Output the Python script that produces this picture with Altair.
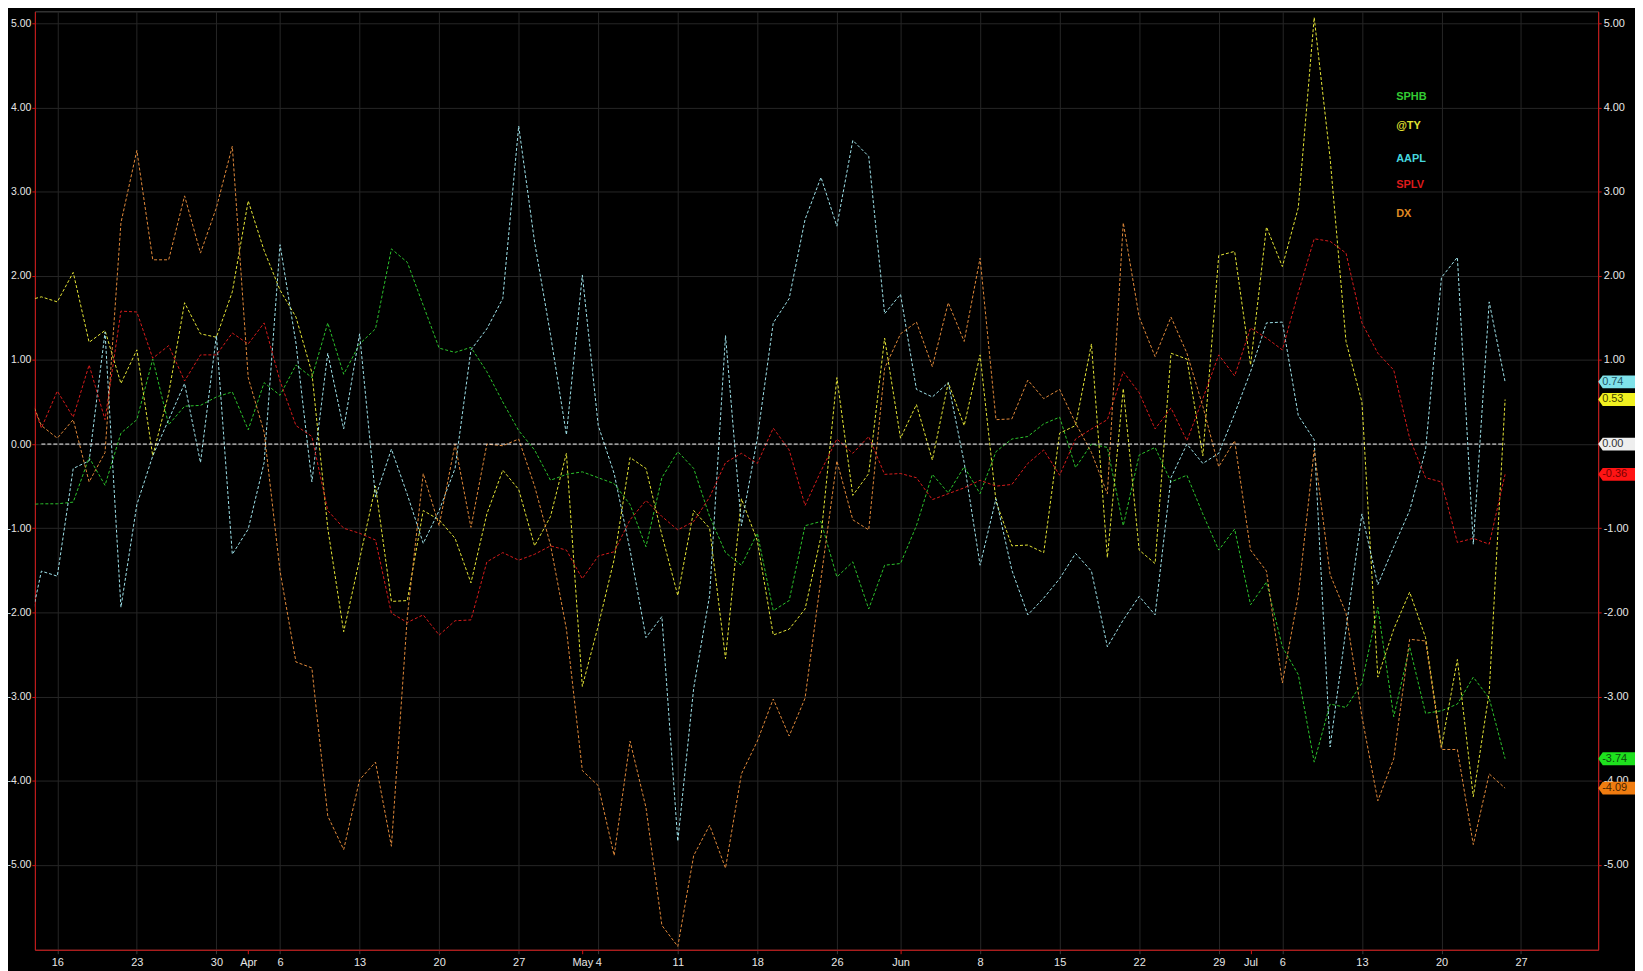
import json

import altair as alt
import pandas as pd

# Trading-day index: 0 = Mon Mar 16 2020, 91 = Fri Jul 24 2020 (bar -2 is clipped at the left edge)
bars = list(range(-2, 92))

sphb = [-0.72, -0.71, -0.71, -0.69, -0.16, -0.49, 0.13, 0.29, 1.01, 0.23,
        0.45, 0.46, 0.56, 0.62, 0.17, 0.73, 0.58, 0.94, 0.79, 1.44,
        0.83, 1.19, 1.37, 2.32, 2.16, 1.65, 1.14, 1.09, 1.15, 0.86,
        0.50, 0.16, -0.07, -0.43, -0.36, -0.33, -0.40, -0.47, -0.72, -1.22,
        -0.40, -0.09, -0.29, -0.86, -1.29, -1.44, -1.06, -1.98, -1.86, -0.97,
        -0.92, -1.58, -1.40, -1.96, -1.44, -1.42, -0.97, -0.36, -0.58, -0.27,
        -0.59, -0.09, 0.06, 0.09, 0.24, 0.32, -0.28, 0.00, -0.04, -0.97,
        -0.13, -0.04, -0.45, -0.37, -0.83, -1.26, -1.01, -1.91, -1.64, -2.41,
        -2.74, -3.78, -3.09, -3.13, -2.84, -1.94, -3.24, -2.41, -3.20, -3.17,
        -3.09, -2.77, -3.02, -3.74]

ty = [1.70, 1.75, 1.69, 2.04, 1.21, 1.35, 0.72, 1.12, -0.14, 0.60,
      1.68, 1.31, 1.27, 1.81, 2.89, 2.30, 1.83, 1.51, 0.85, -1.00,
      -2.23, -1.37, -0.50, -1.87, -1.86, -0.79, -0.90, -1.12, -1.65, -0.83,
      -0.31, -0.54, -1.21, -0.86, -0.11, -2.88, -2.16, -1.37, -0.16, -0.29,
      -1.08, -1.80, -0.79, -1.00, -2.55, -0.65, -1.15, -2.27, -2.20, -1.96,
      -1.10, 0.79, -0.61, -0.35, 1.26, 0.07, 0.47, -0.19, 0.73, 0.22,
      1.06, -0.68, -1.21, -1.20, -1.29, 0.13, 0.22, 1.19, -1.35, 0.66,
      -1.26, -1.42, 1.08, 1.01, -0.14, 2.24, 2.29, 0.94, 2.58, 2.11,
      2.81, 5.07, 3.40, 1.22, 0.50, -2.77, -2.20, -1.76, -2.30, -3.60,
      -2.56, -4.19, -2.95, 0.53]

aapl = [-2.40, -1.51, -1.57, -0.29, -0.20, 1.33, -1.94, -0.72, -0.14, 0.29,
        0.72, -0.22, 1.29, -1.31, -1.01, -0.22, 2.37, 1.20, -0.45, 1.08,
        0.18, 1.31, -0.63, -0.06, -0.60, -1.18, -0.79, -0.29, 1.12, 1.37,
        1.73, 3.78, 2.40, 1.30, 0.11, 2.01, 0.22, -0.35, -1.26, -2.30,
        -2.05, -4.72, -2.90, -1.80, 1.29, -0.97, 0.07, 1.44, 1.73, 2.67,
        3.17, 2.59, 3.61, 3.42, 1.55, 1.78, 0.65, 0.56, 0.73, -0.22,
        -1.44, -0.65, -1.50, -2.03, -1.83, -1.60, -1.30, -1.51, -2.41, -2.09,
        -1.81, -2.03, -0.40, 0.00, -0.23, -0.11, 0.36, 0.86, 1.44, 1.45,
        0.34, 0.05, -3.60, -2.20, -0.83, -1.67, -1.22, -0.79, -0.07, 1.98,
        2.22, -1.19, 1.69, 0.74]

splv = [0.73, 0.19, 0.63, 0.32, 0.94, 0.29, 1.58, 1.57, 1.02, 1.17,
        0.75, 1.06, 1.06, 1.32, 1.19, 1.44, 0.75, 0.22, 0.09, -0.79,
        -1.00, -1.06, -1.14, -2.01, -2.12, -2.03, -2.27, -2.10, -2.09, -1.40,
        -1.29, -1.38, -1.31, -1.21, -1.26, -1.60, -1.33, -1.28, -0.90, -0.67,
        -0.86, -1.02, -0.92, -0.63, -0.22, -0.11, -0.23, 0.19, -0.07, -0.73,
        -0.32, 0.06, -0.11, 0.09, -0.36, -0.35, -0.40, -0.66, -0.59, -0.52,
        -0.43, -0.50, -0.48, -0.23, -0.07, -0.37, 0.06, 0.18, 0.29, 0.86,
        0.61, 0.18, 0.43, 0.04, 0.54, 1.06, 0.81, 1.38, 1.26, 1.12,
        1.80, 2.44, 2.41, 2.27, 1.44, 1.08, 0.88, 0.07, -0.40, -0.45,
        -1.17, -1.12, -1.19, -0.36]

dx = [0.70, 0.22, 0.07, 0.29, -0.45, -0.10, 2.63, 3.49, 2.19, 2.19,
      2.95, 2.27, 2.81, 3.54, 0.79, 0.14, -1.51, -2.59, -2.66, -4.42,
      -4.82, -3.99, -3.78, -4.78, -2.05, -0.35, -0.97, 0.00, -0.99, 0.00,
      -0.02, 0.06, -0.50, -1.20, -2.20, -3.88, -4.06, -4.89, -3.53, -4.32,
      -5.72, -5.97, -4.89, -4.53, -5.04, -3.92, -3.53, -3.03, -3.47, -3.02,
      -1.60, -0.20, -0.90, -1.02, 0.90, 1.31, 1.45, 0.92, 1.68, 1.22,
      2.21, 0.29, 0.30, 0.76, 0.54, 0.65, 0.25, -0.10, -0.59, 2.63,
      1.51, 1.04, 1.51, 1.08, 0.45, -0.27, 0.04, -1.26, -1.51, -2.84,
      -1.80, -0.07, -1.55, -2.01, -3.24, -4.24, -3.74, -2.32, -2.34, -3.63,
      -3.63, -4.76, -3.92, -4.09]

series = ["SPHB", "@TY", "AAPL", "SPLV", "DX"]
series_values = [sphb, ty, aapl, splv, dx]
line_colors = ["#2cc42c", "#e6e636", "#9fe4ec", "#d81c1c", "#e28a3a"]
legend_colors = ["#33cc33", "#e2e232", "#46d6de", "#dd1a1a", "#e08a22"]

# last-value tags on the right axis (zero line tag first)
tag_fills = ["#eeeeee", "#1ee01e", "#f0f020", "#7fe2ea", "#ff1414", "#f07c10"]
tag_text_colors = ["#333333", "#0b4a0b", "#444400", "#1f5566", "#7a0000", "#4a2400"]

# x-axis ticks: weekly (with grid) plus month starts
tick_bars = [0, 5, 10, 12, 14, 19, 24, 29, 33, 34, 39, 44, 49, 53, 58, 63, 68, 73, 75, 77, 82, 87, 92]
tick_labels = ["16", "23", "30", "Apr", "6", "13", "20", "27", "May", "4", "11", "18", "26",
               "Jun", "8", "15", "22", "29", "Jul", "6", "13", "20", "27"]
month_bars = [12, 33, 53, 75]
no_grid_bars = [12, 33, 75]

FONT = "Liberation Sans, Arial, sans-serif"
RED = "#d41414"
GRID = "#262626"
W, H = 1571, 943

# d3 puts a unicode minus in front of negatives; the reference uses a plain hyphen
Y_LABEL = "replace(format(datum.value, '.2f'), '\u2212', '-')"

rows = []
for name, vals in zip(series, series_values):
    assert len(vals) == len(bars), name
    for b, v in zip(bars, vals):
        rows.append({"bar": b, "value": v, "series": name})
df = pd.DataFrame(rows)

tag_values = [0.0] + [vals[-1] for vals in series_values]
tag_df = pd.DataFrame({
    "value": tag_values,
    "label": [f"{v:.2f}" for v in tag_values],
    "fill": tag_fills,
    "text_color": tag_text_colors,
})

zero_df = pd.DataFrame({"value": [0.0], "start": [bars[1]], "end": [bars[-1]]})

x_scale = alt.Scale(domain=[-1.41, 96.85], nice=False, zero=False)
y_scale = alt.Scale(domain=[-6.01, 5.143], nice=False, zero=False)

x_axis = alt.Axis(
    values=tick_bars,
    labelExpr=f"{json.dumps(tick_labels)}[indexof({json.dumps(tick_bars)}, datum.value)]",
    title=None,
    grid=True,
    gridColor=GRID,
    gridOpacity={"condition": {"test": f"indexof({json.dumps(no_grid_bars)}, datum.value) >= 0", "value": 0}, "value": 1},
    tickColor={"condition": {"test": f"indexof({json.dumps(month_bars)}, datum.value) >= 0", "value": RED}, "value": "#3a3a3a"},
    tickSize=4,
    labelPadding=3,
    domainColor=RED,
    labelColor="#e6e6e6",
    labelFont=FONT,
    labelFontSize=11,
    labelOverlap=False,
    labelFlush=False,
)

y_left = alt.Axis(
    values=list(range(-5, 6)), labelExpr=Y_LABEL, title=None, orient="left",
    grid=True, gridColor=GRID, domainColor=RED, tickColor=RED, tickSize=3,
    labelPadding=1, labelColor="#e6e6e6", labelFont=FONT, labelFontSize=10.5,
)
y_right = alt.Axis(
    values=list(range(-5, 6)), labelExpr=Y_LABEL, title=None, orient="right",
    grid=False, domainColor=RED, tickColor=RED, tickSize=3,
    labelPadding=2, labelColor="#e6e6e6", labelFont=FONT, labelFontSize=11,
)

lines = alt.Chart(df).mark_line(strokeWidth=1, strokeDash=[3, 2], clip=True).encode(
    x=alt.X("bar:Q", scale=x_scale, axis=x_axis),
    y=alt.Y("value:Q", scale=y_scale, axis=y_left),
    color=alt.Color("series:N", scale=alt.Scale(domain=series, range=line_colors), legend=None),
)

zero_line = alt.Chart(zero_df).mark_rule(color="#ffffff", strokeWidth=1, strokeDash=[4, 2]).encode(
    x=alt.X("start:Q", scale=x_scale, axis=x_axis),
    x2="end:Q",
    y=alt.Y("value:Q", scale=y_scale, axis=None),
)

# pentagon tag pointing left at the right axis
tag_shape = "M -1 0 L -0.76 -0.34 L 1 -0.34 L 1 0.34 L -0.76 0.34 Z"
tags = alt.Chart(tag_df).mark_point(shape=tag_shape, filled=True, size=1444, opacity=1, strokeWidth=0).encode(
    x=alt.value(W + 19),
    y=alt.Y("value:Q", scale=y_scale, axis=y_right),
    fill=alt.Fill("fill:N", scale=None),
)

tag_text = alt.Chart(tag_df).mark_text(align="left", baseline="middle", font=FONT, fontSize=11).encode(
    x=alt.value(W + 4),
    y=alt.Y("value:Q", scale=y_scale, axis=None),
    text="label:N",
    fill=alt.Fill("text_color:N", scale=None),
)

legend_y = [86.4, 115.6, 148.4, 174.6, 203.2]
legend_layers = [
    alt.Chart(pd.DataFrame({"name": [name]})).mark_text(
        align="left", baseline="middle", font=FONT, fontSize=11, fontWeight="bold", color=col
    ).encode(x=alt.value(1368), y=alt.value(ly), text="name:N")
    for name, col, ly in zip(series, legend_colors, legend_y)
]

chart = (
    alt.layer(lines, zero_line, tags, tag_text, *legend_layers)
    .resolve_axis(y="independent")
    .properties(
        width=W,
        height=H,
        background="#000000",
        padding={"left": 27, "top": 1, "right": 37, "bottom": 20},
        autosize=alt.AutoSizeParams(type="none"),
    )
    .configure_view(stroke="#4d4d4d", strokeWidth=1)
)

chart.save("out.html", embed_options={"renderer": "svg", "actions": False})
